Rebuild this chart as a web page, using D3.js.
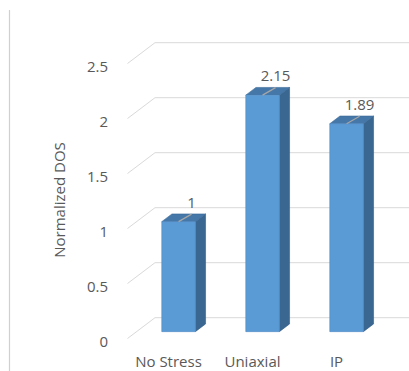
<!DOCTYPE html>
<html>
<head>
<meta charset="utf-8">
<script src="https://cdn.jsdelivr.net/npm/d3@7"></script>
<style>
  html, body { margin: 0; padding: 0; background: #fff; }
  svg { display: block; }
  text { font-family: "Open Sans", "Noto Sans", sans-serif; fill: #595959; }
</style>
</head>
<body>
<svg id="chart" width="409" height="371"></svg>
<script>
// Normalized density of states under different stress conditions
const categories = ["No Stress", "Uniaxial", "IP"];
const values = [1, 2.15, 1.89];
const valueLabels = ["1", "2.15", "1.89"];
const yTicks = [0, 0.5, 1, 1.5, 2, 2.5];
const yTickLabels = ["0", "0.5", "1", "1.5", "2", "2.5"];

const svg = d3.select("#chart");

// Oblique 3D projection: a point at depth d (0 = front, 1 = back wall)
// is shifted by d * (depthX, depthY).
const depthX = 27.5, depthY = -20.8;
const proj = (x, y, d) => [x + d * depthX, y + d * depthY];

// Front-plane scales
const x = d3.scaleBand().domain(categories).range([127.5, 379.5])
  .paddingInner(0.6).paddingOuter(0.3);
const y = d3.scaleLinear().domain([0, 2.5]).range([338.5, 63.5]);

// Left frame line
svg.append("line").attr("x1", 9.5).attr("x2", 9.5).attr("y1", 10).attr("y2", 371)
  .attr("stroke", "#d0d0d0").attr("stroke-width", 1.2);

// Gridlines: side-wall diagonal plus back-wall horizontal
const grid = svg.append("g").attr("stroke", "#d9d9d9").attr("stroke-width", 1).attr("fill", "none");
yTicks.forEach(t => {
  const p0 = proj(127.5, y(t), 0);
  const p1 = proj(127.5, y(t), 1);
  const p2 = proj(407, y(t), 1);
  grid.append("path").attr("d", d3.line()([p0, p1, p2]));
});

// Y tick labels
svg.append("g").selectAll("text").data(yTicks).join("text")
  .attr("x", 108).attr("y", t => y(t) + 2)
  .attr("text-anchor", "end").attr("dominant-baseline", "central")
  .attr("font-size", 15)
  .text((t, i) => yTickLabels[i]);

// Y axis title
svg.append("text")
  .attr("transform", "translate(59,200) rotate(-90)")
  .attr("text-anchor", "middle").attr("dominant-baseline", "central")
  .attr("font-size", 15)
  .text("Normalized DOS");

// 3D columns
const d0 = 0.33, d1 = 0.70;
const colFront = "#5b9bd5", colTop = "#4577a8", colSide = "#3a6791";
const bars = svg.append("g");
categories.forEach((c, i) => {
  const xl = x(c), xr = x(c) + x.bandwidth();
  const yt = y(values[i]), yb = y(0);
  const fTL = proj(xl, yt, d0), fTR = proj(xr, yt, d0);
  const fBR = proj(xr, yb, d0), fBL = proj(xl, yb, d0);
  const bTL = proj(xl, yt, d1), bTR = proj(xr, yt, d1), bBR = proj(xr, yb, d1);
  const poly = pts => "M" + pts.map(p => p.join(",")).join("L") + "Z";
  bars.append("path").attr("d", poly([fTR, bTR, bBR, fBR])).attr("fill", colSide)
    .attr("stroke", "#335d85").attr("stroke-width", 0.6);
  bars.append("path").attr("d", poly([fTL, bTL, bTR, fTR])).attr("fill", colTop)
    .attr("stroke", "#3a6a99").attr("stroke-width", 0.6);
  bars.append("path").attr("d", poly([fTL, fTR, fBR, fBL])).attr("fill", colFront)
    .attr("stroke", "#4f8cc4").attr("stroke-width", 0.6);

  // Data label with short leader line
  const cx = (xl + xr) / 2;
  const ft = proj(cx, yt, d0);
  svg.append("line")
    .attr("x1", ft[0]).attr("y1", ft[1])
    .attr("x2", ft[0] + 13).attr("y2", ft[1] - 7.5)
    .attr("stroke", "#a6a6a6").attr("stroke-width", 1.2);
  svg.append("text")
    .attr("x", ft[0] + 13).attr("y", ft[1] - 20)
    .attr("text-anchor", "middle").attr("dominant-baseline", "central")
    .attr("font-size", 15).attr("fill", "#404040")
    .text(valueLabels[i]);
});

// Category labels
svg.append("g").selectAll("text").data(categories).join("text")
  .attr("x", c => x(c) + x.bandwidth() / 2 - 1)
  .attr("y", 361)
  .attr("text-anchor", "middle").attr("dominant-baseline", "central")
  .attr("font-size", 15)
  .text(c => c);
</script>
</body>
</html>
